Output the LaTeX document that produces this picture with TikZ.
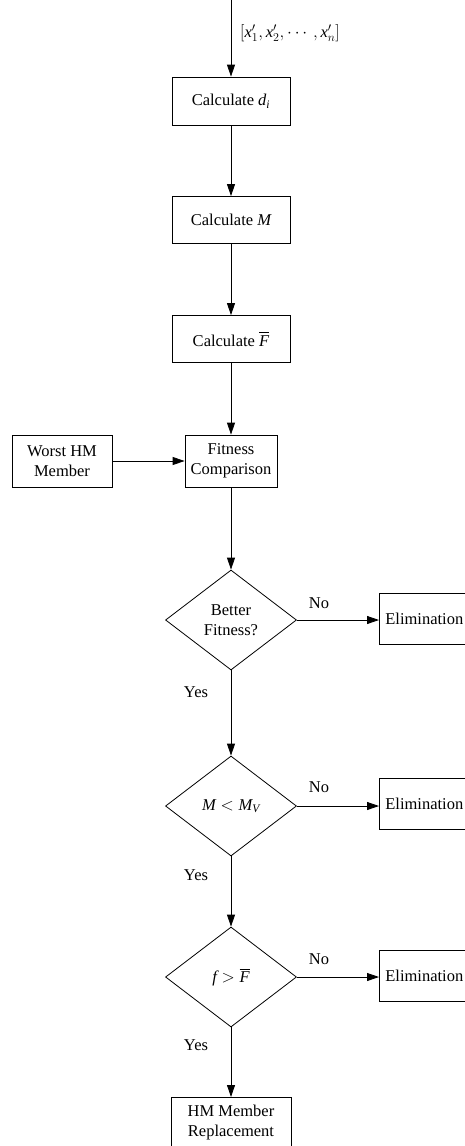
\documentclass[tikz,border=0pt]{standalone}
\usepackage{amsmath}
\usepackage{fontspec}
\setmainfont{Liberation Serif}
\usetikzlibrary{shapes.geometric,arrows.meta}
\newcommand{\mvar}[1]{\text{\itshape #1}}
\begin{document}
\begin{tikzpicture}[x=1pt,y=-1pt,
  every node/.style={font=\fontsize{16.5}{19.5}\selectfont},
  box/.style={draw, line width=0.8pt, align=center, inner sep=2pt},
  dia/.style={draw, line width=0.8pt, shape=diamond, aspect=1.31, inner sep=0pt, minimum width=131pt, minimum height=100pt, align=center},
  arr/.style={line width=0.8pt, -{Triangle[length=12pt,width=8pt]}},
  lab/.style={inner sep=0pt}]
\useasboundingbox (0,0) rectangle (464,1146);
\coordinate (start) at (231,0);
\node[box, minimum width=118pt, minimum height=48pt] (c1) at (231,101) {Calculate $\mvar{d}_{\mvar{i}}$};
\node[box, minimum width=118pt, minimum height=47pt] (c2) at (231,220) {Calculate $\mvar{M}$};
\node[box, minimum width=118pt, minimum height=47pt] (c3) at (231,339) {Calculate $\overline{\mvar{F}}$};
\node[box, minimum width=92pt, minimum height=52pt] (fc) at (231,461) {Fitness\\Comparison};
\node[box, minimum width=100pt, minimum height=52pt] (wm) at (62,461) {Worst HM\\Member};
\node[dia] (d1) at (231,620) {Better\\Fitness?};
\node[dia] (d2) at (231,806) {$\mvar{M} < \mvar{M}_{\mvar{V}}$};
\node[dia] (d3) at (231,977) {$\mvar{f} > \overline{\mvar{F}}$};
\node[box, anchor=west, minimum height=51pt, inner xsep=6pt] (e1) at (379,618.5) {Elimination};
\node[box, anchor=west, minimum height=51pt, inner xsep=6pt] (e2) at (379,803.5) {Elimination};
\node[box, anchor=west, minimum height=51pt, inner xsep=6pt] (e3) at (379,975.5) {Elimination};
\node[box, anchor=north, minimum width=120pt, minimum height=50pt] (hm) at (231,1097) {HM Member\\Replacement};
\node[lab] (xl) at (290,33) {$\left[\mvar{x}'_{1}, \mvar{x}'_{2}, \cdots, \mvar{x}'_{n}\right]$};
\node[lab] (no1) at (319,603) {No};
\node[lab] (no2) at (319,787) {No};
\node[lab] (no3) at (319,959) {No};
\node[lab] (yes1) at (196,692) {Yes};
\node[lab] (yes2) at (196,875) {Yes};
\node[lab] (yes3) at (196,1045) {Yes};
\draw[arr] (start) -- (c1);
\draw[arr] (c1) -- (c2);
\draw[arr] (c2) -- (c3);
\draw[arr] (c3) -- (fc);
\draw[arr] (wm) -- (fc);
\draw[arr] (fc) -- (d1);
\draw[arr] (d1) -- (d2);
\draw[arr] (d2) -- (d3);
\draw[arr] (d3) -- (hm);
\draw[arr] (d1.east) -- (d1.east -| e1.west);
\draw[arr] (d2.east) -- (d2.east -| e2.west);
\draw[arr] (d3.east) -- (d3.east -| e3.west);
\end{tikzpicture}
\end{document}
